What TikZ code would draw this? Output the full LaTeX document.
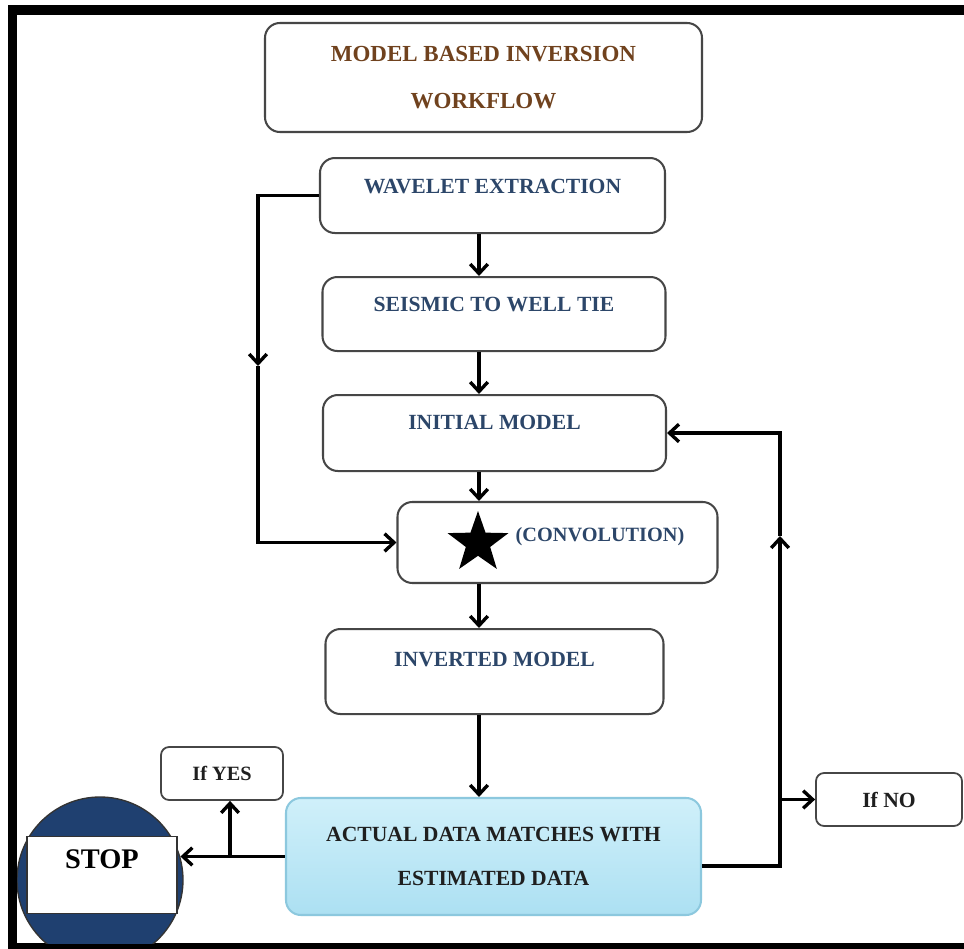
\documentclass[tikz,border=0pt]{standalone}
\usepackage{fontspec}
\setmainfont{Liberation Serif}
\usetikzlibrary{arrows.meta,positioning,shapes.geometric}
\definecolor{mbblue}{RGB}{44,70,105}
\definecolor{mbbrown}{RGB}{112,66,30}
\definecolor{mbnavy}{RGB}{31,64,112}
\definecolor{mbedge}{RGB}{70,70,70}
\definecolor{mbcyanA}{RGB}{208,240,250}
\definecolor{mbcyanB}{RGB}{172,224,242}
\definecolor{mbcyanE}{RGB}{140,200,222}
\newdimen\pxu \pxu=0.026cm
\tikzset{
  stepbox/.style={draw=mbedge,line width=1.5pt,rounded corners=11pt,inner xsep=0pt,
    inner ysep=0pt,text=mbblue,font=\fontsize{16}{19}\selectfont\bfseries},
  titlebox/.style={stepbox,align=center,text=mbbrown,
    font=\fontsize{17}{35.4}\selectfont\bfseries},
  actbox/.style={stepbox,draw=mbcyanE,top color=mbcyanA,bottom color=mbcyanB,
    align=center,text=black!88,font=\fontsize{16}{33.2}\selectfont\bfseries},
  tagbox/.style={draw=mbedge,line width=1.3pt,rounded corners=6pt,inner sep=0pt,
    text=black!88,font=\fontsize{15}{18}\selectfont\bfseries},
  arr/.style={line width=2.5pt,-{Straight Barb[length=7pt,width=13pt]}}
}

\begin{document}
\begin{tikzpicture}[x=0.026cm,y=-0.026cm]
    \useasboundingbox (0,0) rectangle (964,949);
    \fill[white] (0,0) rectangle (964,949);
    \fill[black] (8,5) rectangle (964,15);
    \fill[black] (8,5) rectangle (17,949);
    \fill[black] (8,943) rectangle (964,949);

    \node[titlebox,minimum width=437\pxu,minimum height=109\pxu] (ttl) at (483.5,77.5)
      {MODEL BASED INVERSION\\WORKFLOW};
    \node[stepbox,anchor=north,minimum width=345\pxu,text height=35\pxu,text depth=40\pxu]
      (wav) at (492.5,157) {WAVELET EXTRACTION};
    \node[stepbox,anchor=north,minimum width=343\pxu,text height=34\pxu,text depth=40\pxu]
      (sei) at (494,276) {SEISMIC TO WELL TIE};
    \node[stepbox,anchor=north,minimum width=343\pxu,text height=34\pxu,text depth=42\pxu]
      (ini) at (494.5,394) {INITIAL MODEL};
    \node[stepbox,minimum width=320\pxu,minimum height=81\pxu] (conv) at (557.5,542.5) {};
    \node[star,star points=5,star point ratio=2.5,fill=black,inner sep=0pt,
      minimum size=64\pxu] (stara) at (478,543) {};
    \node[anchor=base,text=mbblue,font=\fontsize{15}{18}\selectfont\bfseries]
      (convtxt) at (600,541) {(CONVOLUTION)};
    \node[stepbox,anchor=north,minimum width=338\pxu,text height=37\pxu,text depth=48\pxu]
      (inv) at (494.5,628) {INVERTED MODEL};
    \node[actbox,minimum width=415\pxu,minimum height=117\pxu] (act) at (493.5,856.5)
      {ACTUAL DATA MATCHES WITH\\ESTIMATED DATA};
    \node[tagbox,minimum width=122\pxu,minimum height=53\pxu] (ifyes) at (222,773.5) {If YES};
    \node[tagbox,minimum width=146\pxu,minimum height=53\pxu,
      font=\fontsize{16}{19}\selectfont\bfseries] (ifno) at (889,799.5) {If NO};

    \begin{scope}
      \clip (17,15) rectangle (964,943);
      \node[circle,fill=mbnavy,draw=black!80,line width=1pt,inner sep=0pt,
        minimum size=166\pxu] (stopc) at (100,880) {};
    \end{scope}
    \node[draw=black!80,fill=white,line width=1pt,anchor=north,inner sep=0pt,
      minimum width=150\pxu,text height=32\pxu,text depth=45\pxu,
      font=\fontsize{21}{24}\selectfont\bfseries] (stop) at (102,836) {STOP};

    \coordinate (col) at (479,0);
    \draw[arr] (wav.south -| col) -- (sei.north -| col);
    \draw[arr] (sei.south -| col) -- (ini.north -| col);
    \draw[arr] (ini.south -| col) -- (conv.north -| col);
    \draw[arr] (conv.south -| col) -- (inv.north -| col);
    \draw[arr] (inv.south -| col) -- (act.north -| col);

    \coordinate (lmid) at (258,366);
    \draw[arr] (wav.west) -| (lmid);
    \draw[arr] (lmid) |- (conv.west);

    \coordinate (rbot) at (780,866);
    \coordinate (rmid) at (780,536);
    \draw[arr] (act.east |- rbot) -- (rbot) -- (rmid);
    \draw[arr] (rmid) |- (ini.east);
    \draw[arr] (rbot |- ifno.west) -- (ifno.west);

    \coordinate (ybr) at (230,0);
    \draw[arr] (act.west) -- (act.west -| stopc.16);
    \draw[arr] (act.west -| ybr) -- (ifyes.south -| ybr);
  \end{tikzpicture}
\end{document}
